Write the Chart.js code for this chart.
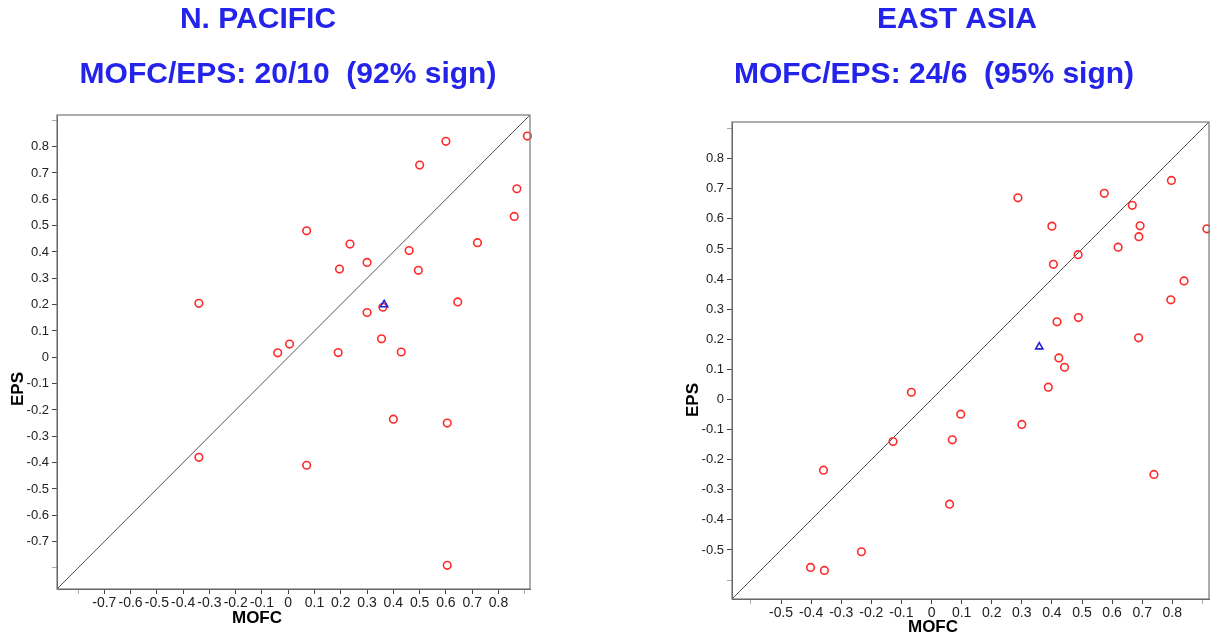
<!DOCTYPE html>
<html>
<head>
<meta charset="utf-8">
<title>MOFC vs EPS</title>
<script src="https://cdn.jsdelivr.net/npm/chart.js@4/dist/chart.umd.min.js"></script>
<style>
  html, body { margin: 0; padding: 0; background: #fff; overflow: hidden; }
  .panel { position: absolute; top: 0; }
</style>
</head>
<body>
<canvas id="npChart" class="panel" width="605" height="638" style="left:0"></canvas>
<canvas id="eaChart" class="panel" width="605" height="638" style="left:605px"></canvas>

<script>
// N. Pacific: MOFC (x) against EPS (y)
const npMofc = [0.91, 0.60, 0.50, 0.87, 0.86, 0.07, 0.235, 0.72, 0.46, 0.30, 0.195, 0.495, 0.36,
  0.645, 0.30, 0.355, 0.005, -0.04, 0.19, 0.43, -0.34, -0.34, 0.07, 0.40, 0.605, 0.605];
const npEps = [0.84, 0.82, 0.73, 0.64, 0.535, 0.48, 0.43, 0.435, 0.405, 0.36, 0.335, 0.33, 0.19,
  0.21, 0.17, 0.07, 0.05, 0.017, 0.018, 0.02, 0.205, -0.38, -0.41, -0.235, -0.25, -0.79];
const npMeanMofc = [0.365];
const npMeanEps = [0.20];
const npRange = [-0.88, 0.92];
const npTicks = [-0.8, -0.7, -0.6, -0.5, -0.4, -0.3, -0.2, -0.1, 0, 0.1, 0.2, 0.3, 0.4, 0.5, 0.6, 0.7, 0.8, 0.9];
const npLabelled = [-0.7, 0.8];

// East Asia
const eaMofc = [0.287, 0.574, 0.797, 0.667, 0.40, 0.693, 0.915, 0.689, 0.62, 0.487, 0.405, 0.839,
  0.795, 0.488, 0.417, 0.688, 0.423, 0.442, 0.388, 0.097, 0.30, 0.069, 0.06, 0.739, -0.067,
  -0.128, -0.359, -0.233, -0.402, -0.356];
const eaEps = [0.67, 0.685, 0.728, 0.645, 0.576, 0.577, 0.567, 0.541, 0.506, 0.481, 0.449, 0.394,
  0.331, 0.272, 0.258, 0.205, 0.138, 0.107, 0.041, -0.049, -0.083, -0.134, -0.348, -0.249, 0.024,
  -0.14, -0.235, -0.506, -0.558, -0.568];
const eaMeanMofc = [0.358];
const eaMeanEps = [0.175];
const eaRange = [-0.663, 0.922];
const eaTicksX = [-0.6, -0.5, -0.4, -0.3, -0.2, -0.1, 0, 0.1, 0.2, 0.3, 0.4, 0.5, 0.6, 0.7, 0.8, 0.9];
const eaTicksY = [-0.6, -0.5, -0.4, -0.3, -0.2, -0.1, 0, 0.1, 0.2, 0.3, 0.4, 0.5, 0.6, 0.7, 0.8, 0.9];
const eaLabelled = [-0.5, 0.8];

const BLUE = "#2323ea";
const FONT = "'Liberation Sans', Arial, Helvetica, sans-serif";

function fmt(v) {
  const r = Math.round(v * 10) / 10;
  return r === 0 ? "0" : r.toFixed(1);
}

function toPoints(xs, ys) {
  return xs.map((x, i) => ({ x, y: ys[i] }));
}

// frame around the plot area plus free-placed titles
const panelText = {
  id: "panelText",
  afterDraw(chart, args, opts) {
    const { ctx, chartArea } = chart;
    ctx.save();
    ctx.strokeStyle = "#777";
    ctx.lineWidth = 1.2;
    ctx.strokeRect(chartArea.left, chartArea.top, chartArea.right - chartArea.left, chartArea.bottom - chartArea.top);
    (opts.items || []).forEach(t => {
      ctx.save();
      ctx.font = t.font;
      ctx.fillStyle = t.color || "#000";
      ctx.textAlign = "center";
      ctx.textBaseline = "middle";
      ctx.translate(t.x, t.y);
      if (t.rotate) ctx.rotate(t.rotate);
      ctx.fillText(t.text, 0, 0);
      ctx.restore();
    });
    ctx.restore();
  }
};

function axis(range, ticks, labelled, sizeKey, size, fontSize) {
  return {
    type: "linear",
    min: range[0],
    max: range[1],
    afterBuildTicks: a => { a.ticks = ticks.map(v => ({ value: v })); },
    afterFit: a => {
      a[sizeKey] = size;
      // keep the plot box where the layout padding puts it
      a.paddingLeft = 0; a.paddingRight = 0; a.paddingTop = 0; a.paddingBottom = 0;
    },
    border: { display: true, color: "#555", width: 1 },
    grid: {
      drawOnChartArea: false,
      drawTicks: true,
      tickLength: 5,
      tickColor: c => (c.tick && (c.tick.value < labelled[0] - 1e-6 || c.tick.value > labelled[1] + 1e-6)) ? "#aaa" : "#444"
    },
    ticks: {
      autoSkip: false,
      maxRotation: 0,
      minRotation: 0,
      padding: sizeKey === "width" ? 3 : 1,
      color: "#222",
      font: { family: FONT, size: fontSize },
      callback: v => (v < labelled[0] - 1e-6 || v > labelled[1] + 1e-6) ? "" : fmt(v)
    }
  };
}

function makePanel(id, p) {
  new Chart(document.getElementById(id), {
    type: "scatter",
    data: {
      datasets: [
        {
          type: "line",
          data: [{ x: p.xRange[0], y: p.yRange[0] }, { x: p.xRange[1], y: p.yRange[1] }],
          borderColor: "#555",
          borderWidth: 1,
          pointRadius: 0,
          order: 3
        },
        {
          data: toPoints(p.xs, p.ys),
          pointStyle: "circle",
          pointRadius: 3.8,
          borderWidth: 1.6,
          borderColor: "#ff2a2a",
          backgroundColor: "rgba(0,0,0,0)",
          clip: false,
          order: 2
        },
        {
          data: toPoints(p.mx, p.my),
          pointStyle: "triangle",
          pointRadius: 4.2,
          borderWidth: 1.6,
          borderColor: "#2020dd",
          backgroundColor: "rgba(0,0,0,0)",
          clip: false,
          order: 1
        }
      ]
    },
    options: {
      responsive: false,
      animation: false,
      devicePixelRatio: 1,
      layout: { padding: p.padding, autoPadding: false },
      plugins: {
        legend: { display: false },
        tooltip: { enabled: false },
        panelText: { items: p.text }
      },
      scales: {
        x: axis(p.xRange, p.xTicks, p.labelled, "height", 30, 14),
        y: axis(p.yRange, p.yTicks, p.labelled, "width", 50, 13)
      }
    },
    plugins: [panelText]
  });
}

const titleFont = "bold 30px " + FONT;
const axisFont = "bold 17px " + FONT;

makePanel("npChart", {
  xs: npMofc, ys: npEps, mx: npMeanMofc, my: npMeanEps,
  xRange: npRange, yRange: npRange,
  xTicks: npTicks, yTicks: npTicks, labelled: npLabelled,
  padding: { left: 7, top: 115, right: 75, bottom: 19 },
  text: [
    { text: "N. PACIFIC", x: 258, y: 20, font: titleFont, color: BLUE },
    { text: "MOFC/EPS: 20/10  (92% sign)", x: 288, y: 75, font: titleFont, color: BLUE },
    { text: "MOFC", x: 257, y: 618, font: axisFont },
    { text: "EPS", x: 18, y: 389, font: axisFont, rotate: -Math.PI / 2 }
  ]
});

makePanel("eaChart", {
  xs: eaMofc, ys: eaEps, mx: eaMeanMofc, my: eaMeanEps,
  xRange: eaRange, yRange: eaRange,
  xTicks: eaTicksX, yTicks: eaTicksY, labelled: eaLabelled,
  padding: { left: 77, top: 122, right: 1, bottom: 9 },
  text: [
    { text: "EAST ASIA", x: 352, y: 20, font: titleFont, color: BLUE },
    { text: "MOFC/EPS: 24/6  (95% sign)", x: 329, y: 75, font: titleFont, color: BLUE },
    { text: "MOFC", x: 328, y: 627, font: axisFont },
    { text: "EPS", x: 88, y: 400, font: axisFont, rotate: -Math.PI / 2 }
  ]
});
</script>
</body>
</html>
